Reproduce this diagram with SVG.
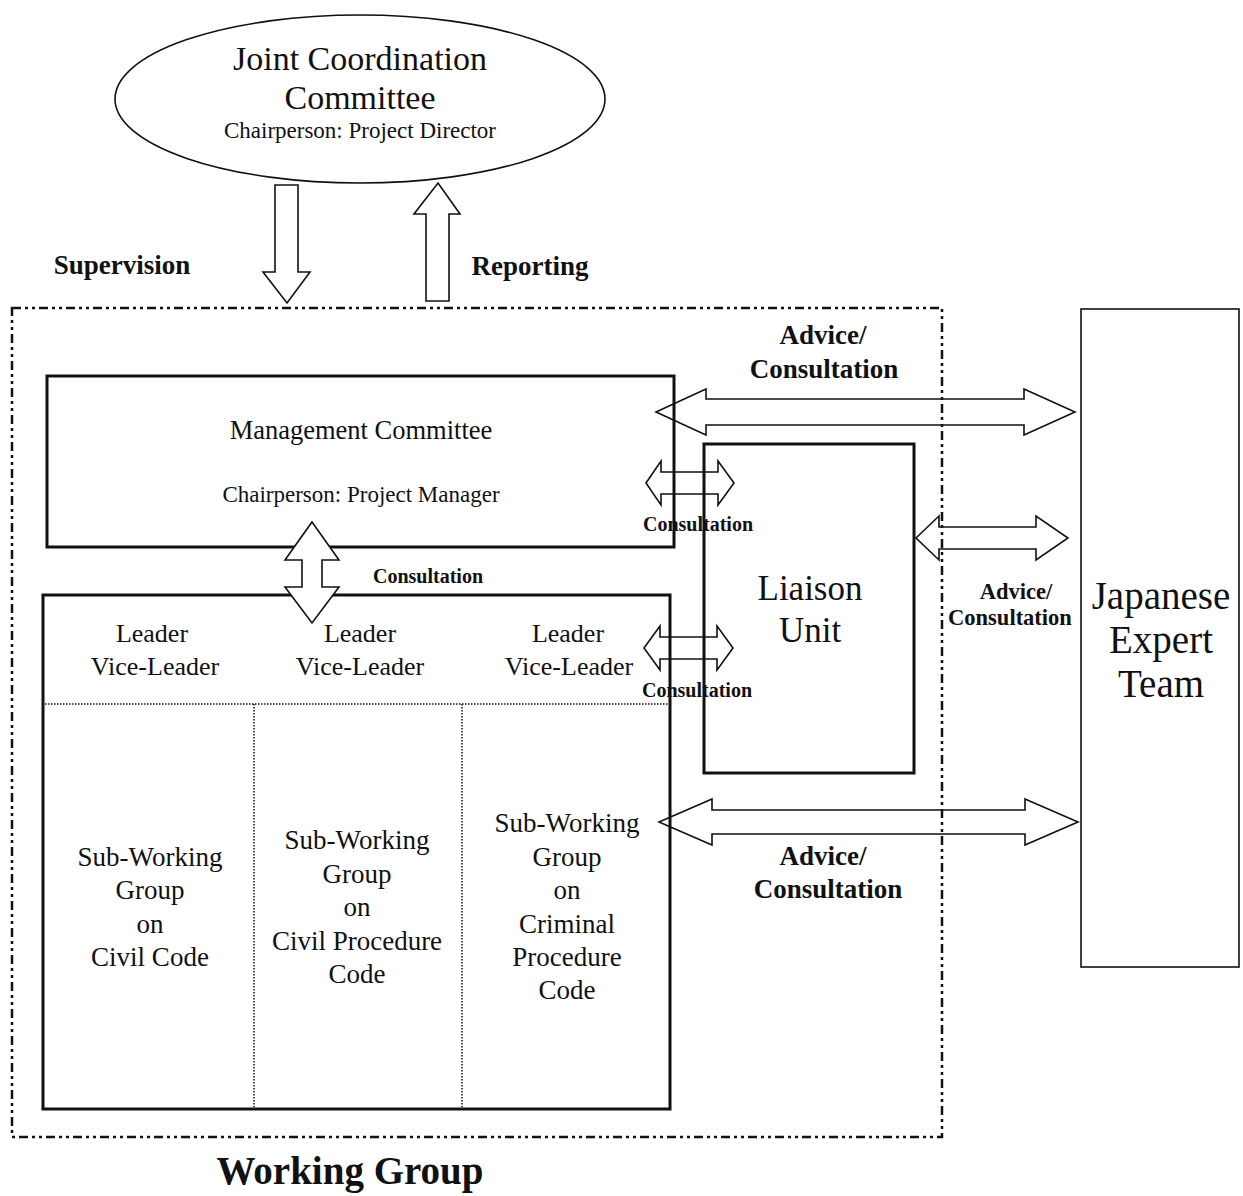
<svg xmlns="http://www.w3.org/2000/svg" width="1243" height="1196" viewBox="0 0 1243 1196">
<style>
  .t { font-family: "Liberation Serif", "Times New Roman", serif; fill: #111; text-anchor: middle; }
  .b { font-weight: bold; }
  .box { fill: none; stroke: #111; stroke-width: 3; }
  .thin { fill: none; stroke: #111; stroke-width: 1.6; }
  .arr { fill: none; stroke: #111; stroke-width: 1.6; stroke-linejoin: miter; }
  .arrw { fill: #fff; stroke: #111; stroke-width: 1.6; }
  .dash { fill: none; stroke: #111; stroke-width: 2.5; stroke-dasharray: 9 4 3 4 3 4; }
  .dot { fill: none; stroke: #111; stroke-width: 1.5; stroke-dasharray: 1.5 1.5; }
</style>
<rect width="1243" height="1196" fill="#fff"/>

<g id="working-group-frame">
  <rect class="dash" x="12" y="308" width="930" height="829"/>
  <text class="t b" x="350" y="1184" font-size="39">Working Group</text>
</g>

<g id="jcc">
  <ellipse class="thin" cx="360" cy="99" rx="245" ry="84"/>
  <text class="t" x="360" y="70" font-size="34">Joint Coordination</text>
  <text class="t" x="360" y="109" font-size="34">Committee</text>
  <text class="t" x="360" y="138" font-size="23">Chairperson: Project Director</text>
</g>

<g id="management-committee">
  <rect class="box" x="47" y="376" width="627" height="171"/>
  <text class="t" x="361" y="439" font-size="26.5">Management Committee</text>
  <text class="t" x="361" y="502" font-size="23">Chairperson: Project Manager</text>
</g>

<g id="sub-working-groups">
  <rect class="box" x="43" y="595" width="627" height="514"/>
  <line class="dot" x1="45" y1="704" x2="668" y2="704"/>
  <line class="dot" x1="254" y1="704" x2="254" y2="1107"/>
  <line class="dot" x1="462" y1="704" x2="462" y2="1107"/>
  <g font-size="26">
    <text class="t" x="152" y="642">Leader</text>
    <text class="t" x="155" y="675">Vice-Leader</text>
    <text class="t" x="360" y="642">Leader</text>
    <text class="t" x="360" y="675">Vice-Leader</text>
    <text class="t" x="568" y="642">Leader</text>
    <text class="t" x="569" y="675">Vice-Leader</text>
  </g>
  <g font-size="27">
    <text class="t" x="150" y="866">Sub-Working</text>
    <text class="t" x="150" y="899">Group</text>
    <text class="t" x="150" y="933">on</text>
    <text class="t" x="150" y="966">Civil Code</text>

    <text class="t" x="357" y="849">Sub-Working</text>
    <text class="t" x="357" y="883">Group</text>
    <text class="t" x="357" y="916">on</text>
    <text class="t" x="357" y="950">Civil Procedure</text>
    <text class="t" x="357" y="983">Code</text>

    <text class="t" x="567" y="832">Sub-Working</text>
    <text class="t" x="567" y="866">Group</text>
    <text class="t" x="567" y="899">on</text>
    <text class="t" x="567" y="933">Criminal</text>
    <text class="t" x="567" y="966">Procedure</text>
    <text class="t" x="567" y="999">Code</text>
  </g>
</g>

<g id="liaison-unit">
  <rect class="box" x="704" y="444" width="210" height="329"/>
  <text class="t" x="810" y="600" font-size="35">Liaison</text>
  <text class="t" x="810" y="642" font-size="35">Unit</text>
</g>

<g id="japanese-expert-team">
  <rect class="thin" x="1081" y="309" width="158" height="658"/>
  <text class="t" x="1161" y="609" font-size="39">Japanese</text>
  <text class="t" x="1161" y="653" font-size="39">Expert</text>
  <text class="t" x="1161" y="697" font-size="39">Team</text>
</g>

<g id="connectors">
  <!-- Supervision (down) -->
  <polygon class="arrw" points="275,185 298,185 298,272 310,272 287,303 263,272 275,272"/>
  <text class="t b" x="122" y="274" font-size="27">Supervision</text>
  <!-- Reporting (up) -->
  <polygon class="arrw" points="438,183 460,214 449,214 449,301 426,301 426,214 414,214"/>
  <text class="t b" x="530" y="275" font-size="27">Reporting</text>

  <!-- Advice top: MC <-> JET -->
  <polygon class="arr" points="656,412 706,389 706,399 1024,399 1024,389 1075,412 1024,435 1024,425 706,425 706,435"/>
  <text class="t b" x="823" y="344" font-size="27">Advice/</text>
  <text class="t b" x="824" y="378" font-size="27">Consultation</text>

  <!-- MC <-> Liaison -->
  <polygon class="arr" points="646,483 661,461 661,472 718,472 718,461 734,483 718,505 718,494 661,494 661,505"/>
  <text class="t b" x="698" y="531" font-size="20">Consultation</text>

  <!-- MC <-> SWG (vertical) -->
  <polygon class="arrw" points="312,522 339,560 322,560 322,587 339,587 312,623 285,587 302,587 302,560 285,560"/>
  <text class="t b" x="428" y="583" font-size="20">Consultation</text>

  <!-- SWG <-> Liaison -->
  <polygon class="arr" points="644,648 660,626 660,637 717,637 717,626 733,648 717,670 717,659 660,659 660,670"/>
  <text class="t b" x="697" y="697" font-size="20">Consultation</text>

  <!-- Liaison <-> JET -->
  <polygon class="arr" points="916,538 939,516 939,527 1036,527 1036,516 1068,538 1036,560 1036,549 939,549 939,560"/>
  <text class="t b" x="1016" y="599" font-size="22.5">Advice/</text>
  <text class="t b" x="1010" y="625" font-size="22.5">Consultation</text>

  <!-- SWG <-> JET -->
  <polygon class="arr" points="659,822 712,799 712,810 1025,810 1025,799 1078,822 1025,845 1025,834 712,834 712,845"/>
  <text class="t b" x="823" y="865" font-size="27">Advice/</text>
  <text class="t b" x="828" y="898" font-size="27">Consultation</text>
</g>
</svg>
